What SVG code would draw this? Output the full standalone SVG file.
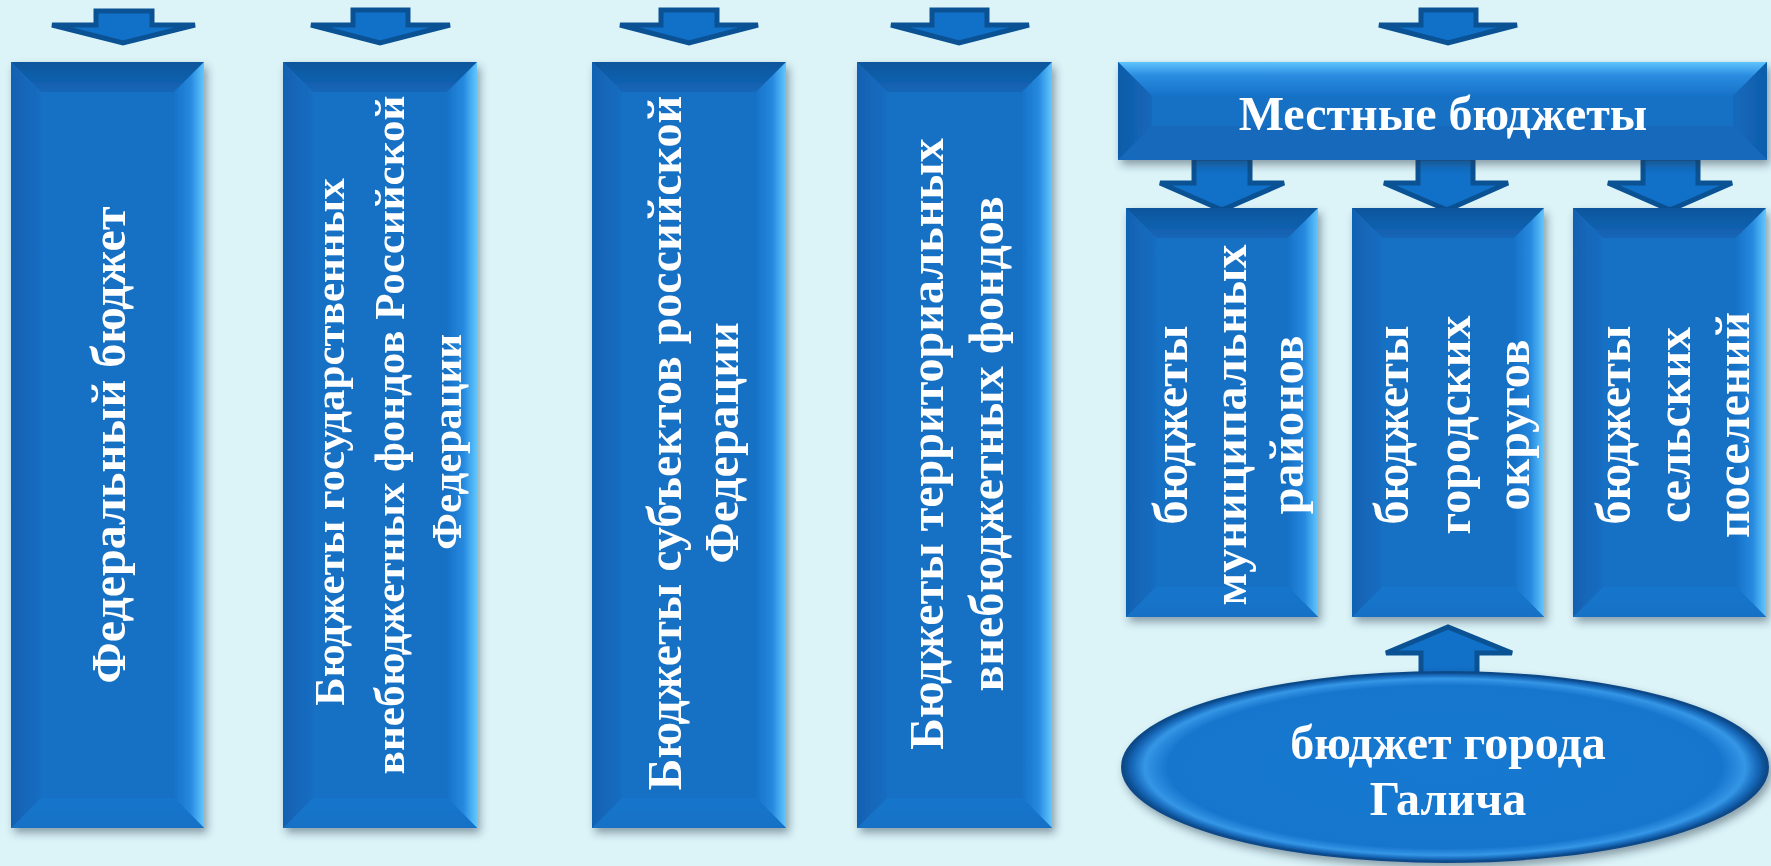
<svg xmlns="http://www.w3.org/2000/svg" width="1771" height="866" viewBox="0 0 1771 866">
<defs>
<filter id="sh" x="-10%" y="-10%" width="130%" height="130%">
<feDropShadow dx="3" dy="5" stdDeviation="4" flood-color="#223344" flood-opacity="0.45"/>
</filter>
<linearGradient id="gTop" x1="0" y1="0" x2="0" y2="1"><stop offset="0" stop-color="#0c569c"/><stop offset="1" stop-color="#1466b8"/></linearGradient>
<linearGradient id="gRight" x1="0" y1="0" x2="1" y2="0"><stop offset="0" stop-color="#1672c8"/><stop offset="0.55" stop-color="#2689de"/><stop offset="1" stop-color="#62c8ff"/></linearGradient>
<linearGradient id="gLeft" x1="0" y1="0" x2="1" y2="0"><stop offset="0" stop-color="#1161b2"/><stop offset="1" stop-color="#156dc1"/></linearGradient>
<linearGradient id="gBot" x1="0" y1="0" x2="0" y2="1"><stop offset="0" stop-color="#1776cb"/><stop offset="1" stop-color="#1671c6"/></linearGradient>
<linearGradient id="hTop" x1="0" y1="0" x2="0" y2="1"><stop offset="0" stop-color="#5ec4ff"/><stop offset="0.4" stop-color="#2a8ce0"/><stop offset="1" stop-color="#1672c8"/></linearGradient>
<linearGradient id="hLeft" x1="0" y1="0" x2="1" y2="0"><stop offset="0" stop-color="#0f5ca8"/><stop offset="1" stop-color="#1467ba"/></linearGradient>
<linearGradient id="hRight" x1="0" y1="0" x2="1" y2="0"><stop offset="0" stop-color="#1569bc"/><stop offset="1" stop-color="#0f5eab"/></linearGradient>
<radialGradient id="gEll" cx="0.5" cy="0.5" r="0.5"><stop offset="0" stop-color="#1878d0"/><stop offset="0.86" stop-color="#1876ce"/><stop offset="0.93" stop-color="#3596e6"/><stop offset="0.97" stop-color="#1565b6"/><stop offset="1" stop-color="#0a4681"/></radialGradient>
</defs>
<style>
.bg{fill:#dcf4f8}
.base{fill:#1670c4}
.bt{fill:url(#gTop)}
.br{fill:url(#gRight)}
.bl{fill:url(#gLeft)}
.bb{fill:url(#gBot)}
.ht{fill:url(#hTop)}
.hl{fill:url(#hLeft)}
.hr{fill:url(#hRight)}
.hb{fill:#1569bb}
.arr{fill:#1170c7;stroke:#0a5294;stroke-width:5;stroke-linejoin:miter}
.t{font-family:"Liberation Serif","Times New Roman",serif;font-weight:bold;font-size:48px;fill:#ffffff;text-anchor:middle}
.s{font-size:43px}
</style>
<rect class="bg" x="0" y="0" width="1771" height="866"/>

<g id="connectors">
<polygon class="arr" points="96,11 152,11 152,25 195,25 123,43 52,25 96,25"/>
<polygon class="arr" points="353,10 408,10 408,25 450,25 380,43 311,25 353,25"/>
<polygon class="arr" points="661,10 717,10 717,25 758,25 689,43 620,25 661,25"/>
<polygon class="arr" points="932,10 987,10 987,25 1029,25 959,43 891,25 932,25"/>
<polygon class="arr" points="1421,10 1476,10 1476,25 1517,25 1448,43 1379,25 1421,25"/>
<polygon class="arr" points="1194,158 1250,158 1250,183 1284,183 1222,210 1160,183 1194,183"/>
<polygon class="arr" points="1418,158 1473,158 1473,183 1508,183 1447,210 1384,183 1418,183"/>
<polygon class="arr" points="1643,158 1698,158 1698,183 1732,183 1670,210 1608,183 1643,183"/>
<polygon class="arr" points="1421,680 1477,680 1477,653 1512,653 1448,627 1386,653 1421,653"/>
</g>

<g id="n-federal" filter="url(#sh)">
<rect class="base" x="11" y="62" width="193" height="766"/>
<polygon class="bt" points="11,62 204,62 174,92 41,92"/>
<polygon class="br" points="204,62 204,828 174,798 174,92"/>
<polygon class="bb" points="11,828 204,828 174,798 41,798"/>
<polygon class="bl" points="11,62 11,828 41,798 41,92"/>
<text class="t" transform="translate(125,445) rotate(-90)">Федеральный бюджет</text>
</g>

<g id="n-gvbf" filter="url(#sh)">
<rect class="base" x="283" y="62" width="194" height="766"/>
<polygon class="bt" points="283,62 477,62 447,92 313,92"/>
<polygon class="br" points="477,62 477,828 447,798 447,92"/>
<polygon class="bb" points="283,828 477,828 447,798 313,798"/>
<polygon class="bl" points="283,62 283,828 313,798 313,92"/>
<text class="t s" transform="translate(344,442) rotate(-90)">Бюджеты государственных</text>
<text class="t s" transform="translate(404,435) rotate(-90)">внебюджетных фондов Российской</text>
<text class="t s" transform="translate(461,442) rotate(-90)">Федерации</text>
</g>

<g id="n-subjects" filter="url(#sh)">
<rect class="base" x="592" y="62" width="194" height="766"/>
<polygon class="bt" points="592,62 786,62 756,92 622,92"/>
<polygon class="br" points="786,62 786,828 756,798 756,92"/>
<polygon class="bb" points="592,828 786,828 756,798 622,798"/>
<polygon class="bl" points="592,62 592,828 622,798 622,92"/>
<text class="t" transform="translate(681,443) rotate(-90)">Бюджеты субъектов российской</text>
<text class="t" transform="translate(738,443) rotate(-90)">Федерации</text>
</g>

<g id="n-territorial" filter="url(#sh)">
<rect class="base" x="857" y="62" width="195" height="766"/>
<polygon class="bt" points="857,62 1052,62 1022,92 887,92"/>
<polygon class="br" points="1052,62 1052,828 1022,798 1022,92"/>
<polygon class="bb" points="857,828 1052,828 1022,798 887,798"/>
<polygon class="bl" points="857,62 857,828 887,798 887,92"/>
<text class="t" transform="translate(943,444) rotate(-90)">Бюджеты территориальных</text>
<text class="t" transform="translate(1003,444) rotate(-90)">внебюджетных фондов</text>
</g>

<g id="n-local" filter="url(#sh)">
<rect class="base" x="1118" y="62" width="649" height="98"/>
<polygon class="ht" points="1118,62 1767,62 1733,96 1152,96"/>
<polygon class="hr" points="1767,62 1767,160 1733,126 1733,96"/>
<polygon class="hb" points="1118,160 1767,160 1733,126 1152,126"/>
<polygon class="hl" points="1118,62 1118,160 1152,126 1152,96"/>
<text class="t" x="1443" y="130">Местные бюджеты</text>
</g>

<g id="n-municipal" filter="url(#sh)">
<rect class="base" x="1126" y="208" width="192" height="409"/>
<polygon class="bt" points="1126,208 1318,208 1288,238 1156,238"/>
<polygon class="br" points="1318,208 1318,617 1288,587 1288,238"/>
<polygon class="bb" points="1126,617 1318,617 1288,587 1156,587"/>
<polygon class="bl" points="1126,208 1126,617 1156,587 1156,238"/>
<text class="t" transform="translate(1187,425) rotate(-90)">бюджеты</text>
<text class="t" transform="translate(1246,425) rotate(-90)">муниципальных</text>
<text class="t" transform="translate(1303,425) rotate(-90)">районов</text>
</g>

<g id="n-urban" filter="url(#sh)">
<rect class="base" x="1352" y="208" width="192" height="409"/>
<polygon class="bt" points="1352,208 1544,208 1514,238 1382,238"/>
<polygon class="br" points="1544,208 1544,617 1514,587 1514,238"/>
<polygon class="bb" points="1352,617 1544,617 1514,587 1382,587"/>
<polygon class="bl" points="1352,208 1352,617 1382,587 1382,238"/>
<text class="t" transform="translate(1408,425) rotate(-90)">бюджеты</text>
<text class="t" transform="translate(1470,425) rotate(-90)">городских</text>
<text class="t" transform="translate(1529,425) rotate(-90)">округов</text>
</g>

<g id="n-rural" filter="url(#sh)">
<rect class="base" x="1573" y="208" width="193" height="409"/>
<polygon class="bt" points="1573,208 1766,208 1736,238 1603,238"/>
<polygon class="br" points="1766,208 1766,617 1736,587 1736,238"/>
<polygon class="bb" points="1573,617 1766,617 1736,587 1603,587"/>
<polygon class="bl" points="1573,208 1573,617 1603,587 1603,238"/>
<text class="t" transform="translate(1630,425) rotate(-90)">бюджеты</text>
<text class="t" transform="translate(1690,425) rotate(-90)">сельских</text>
<text class="t" transform="translate(1749,425) rotate(-90)">поселений</text>
</g>

<g id="n-galich" filter="url(#sh)">
<ellipse cx="1445" cy="767" rx="323" ry="95" fill="url(#gEll)" stroke="#0b4a88" stroke-width="2"/>
<text class="t" x="1448" y="759">бюджет города</text>
<text class="t" x="1448" y="815">Галича</text>
</g>
</svg>
